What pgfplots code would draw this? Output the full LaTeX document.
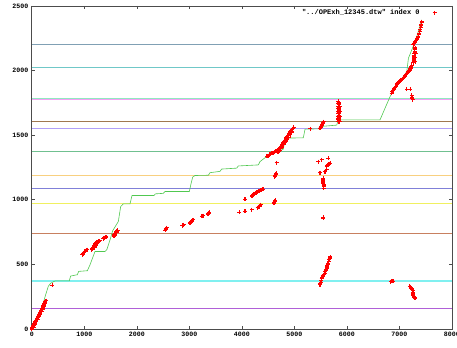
\documentclass[border=0pt]{standalone}
\usepackage{pgfplots}
\pgfplotsset{compat=1.18}
\usepackage{fontspec}
\setmonofont{Liberation Mono}
\definecolor{hA}{HTML}{B060D8}
\definecolor{hB}{HTML}{80F0F0}
\definecolor{hC}{HTML}{C88060}
\definecolor{hD}{HTML}{F0F060}
\definecolor{hE}{HTML}{8080D8}
\definecolor{hF}{HTML}{F8D080}
\definecolor{hG}{HTML}{70C090}
\definecolor{hH}{HTML}{B0A0F8}
\definecolor{hI}{HTML}{A07850}
\definecolor{hJ}{HTML}{F4A0F4}
\definecolor{hK}{HTML}{90E8C0}
\definecolor{hL}{HTML}{70C8C8}
\definecolor{hM}{HTML}{80A0B4}
\definecolor{gline}{HTML}{50C850}
\begin{document}
\begin{tikzpicture}
\begin{axis}[
  scale only axis, width=420pt, height=323pt,
  xmin=0, xmax=8000, ymin=0, ymax=2500,
  xtick={0,1000,...,8000}, ytick={0,500,...,2500},
  scaled ticks=false,
  tick align=inside, major tick length=3pt,
  axis line style={draw=black!70, line width=0.6pt},
  every tick/.style={black!70, line width=0.6pt},
  /pgf/number format/assume math mode=true,
  /pgf/number format/1000 sep={},
  ticklabel style={font=\ttfamily\bfseries\fontsize{6.6}{7}\selectfont},
  xticklabel style={yshift=0.5pt},
  legend plot pos=right,
  legend style={at={(rel axis cs:0.993,0.979)}, anchor=east, draw=none, fill=none,
    font=\ttfamily\bfseries\fontsize{7}{7}\selectfont, inner sep=0pt,
    nodes={inner sep=1pt}},
  legend image code/.code={\path[draw=none,fill=none] (0pt,-1pt) rectangle (28pt,1pt); \draw plot coordinates {(14pt,0pt)};},
  clip=true,
]
% horizontal reference lines
\addplot[hA, line width=1pt, forget plot] coordinates {(0,155) (8000,155)};
\addplot[hB, line width=1.4pt, forget plot] coordinates {(0,373) (8000,373)};
\addplot[hC, line width=1pt, forget plot] coordinates {(0,742) (8000,742)};
\addplot[hD, line width=1pt, forget plot] coordinates {(0,969) (8000,969)};
\addplot[hE, line width=1pt, forget plot] coordinates {(0,1085) (8000,1085)};
\addplot[hF, line width=1pt, forget plot] coordinates {(0,1191) (8000,1191)};
\addplot[hG, line width=1pt, forget plot] coordinates {(0,1371) (8000,1371)};
\addplot[hH, line width=1pt, forget plot] coordinates {(0,1554) (8000,1554)};
\addplot[hI, line width=1pt, forget plot] coordinates {(0,1608) (8000,1608)};
\addplot[hJ, line width=1pt, forget plot] coordinates {(0,1773) (8000,1773)};
\addplot[hK, line width=1pt, forget plot] coordinates {(0,1783) (8000,1783)};
\addplot[hL, line width=1pt, forget plot] coordinates {(0,2026) (8000,2026)};
\addplot[hM, line width=1pt, forget plot] coordinates {(0,2199) (8000,2199)};
% red points
\addplot[only marks, mark=+, mark size=2pt, red, line width=1.1pt] coordinates {
(0,0) (10,8) (20,16) (30,24) (40,32) (50,41) (60,49) (70,57) (80,65) (90,73) (100,81)
(110,89) (120,97) (130,105) (140,113) (150,122) (160,130) (170,138) (180,146) (190,154)
(200,162) (210,170) (220,178) (230,186) (240,194) (250,203) (260,211) (270,219)
(35,15) (60,35) (85,55) (110,75) (135,95) (160,115) (185,135) (210,155) (235,175) (255,195)
(390,338)
(960,575) (968,578) (975,582) (983,586) (990,590) (998,594) (1005,598) (1013,600) (1020,603) (1030,607) (1040,610) (1050,612) (1060,614)
(1140,615) (1150,620) (1160,625) (1170,632) (1180,640) (1190,648) (1200,655) (1210,660) (1220,665) (1230,669) (1240,672) (1250,675) (1260,677) (1275,680) (1290,682) (1200,630) (1230,650)
(1360,697) (1370,701) (1380,705) (1390,708) (1400,710) (1410,711) (1420,712)
(1560,718) (1568,723) (1575,728) (1583,734) (1590,740) (1598,745) (1605,750) (1613,754) (1620,758) (1630,762) (1640,765) (1585,725) (1615,745)
(2540,765) (2548,770) (2555,775) (2563,780) (2570,785)
(2870,800) (2880,804) (2890,808)
(3010,820) (3020,824) (3030,828) (3040,832) (3050,836) (3060,840) (3070,845)
(3240,872) (3255,875) (3270,878)
(3350,888) (3360,893) (3370,898) (3380,905)
(3950,902) (4060,912) (4190,923)
(4300,938) (4310,941) (4320,945) (4330,948) (4340,952) (4350,957) (4360,962)
(4060,1005)
(4190,1026) (4200,1030) (4210,1035) (4220,1040) (4230,1045) (4245,1048) (4260,1052) (4275,1056) (4290,1060) (4305,1062) (4320,1065) (4335,1068) (4350,1072) (4365,1075) (4380,1078) (4395,1080) (4410,1083)
(4610,972) (4615,977) (4620,982) (4625,986) (4630,990) (4635,994) (4640,998)
(4630,1178) (4635,1183) (4640,1188) (4645,1193) (4650,1198) (4655,1206)
(4665,1288)
(4480,1338) (4500,1342) (4520,1348) (4535,1351) (4550,1355) (4575,1360) (4600,1366)
(4620,1370) (4640,1374) (4660,1378) (4680,1384) (4700,1390) (4715,1395) (4730,1400) (4745,1410) (4760,1420) (4775,1430) (4790,1440) (4805,1450) (4820,1460) (4835,1470) (4850,1480)
(4865,1490) (4880,1500) (4895,1510) (4910,1520) (4925,1528) (4940,1535) (4955,1543) (4970,1550) (4990,1560)
(4690,1370) (4730,1385) (4770,1405) (4800,1425) (4830,1445) (4860,1465) (4890,1485) (4920,1505) (4950,1525)
(5300,1549)
(5490,1554) (5500,1560) (5510,1565) (5520,1572) (5530,1580) (5540,1588) (5550,1595) (5560,1606)
(5840,1606) (5842,1616) (5840,1625) (5842,1635) (5840,1645) (5842,1655) (5840,1665) (5842,1675) (5840,1685) (5842,1695) (5840,1705) (5842,1715) (5840,1725) (5842,1735) (5840,1745) (5842,1755) (5840,1762)
(5862,1606) (5860,1625) (5862,1645) (5860,1665) (5862,1685) (5860,1705) (5862,1725) (5860,1745)
(5458,1296) (5522,1309) (5649,1322) (5617,1258) (5630,1268) (5640,1272) (5650,1276) (5665,1280) (5681,1284)
(5490,1211) (5585,1219) (5617,1232)
(5553,1168) (5555,1160) (5553,1150) (5556,1140) (5556,1130) (5558,1120) (5560,1110) (5562,1100) (5563,1090)
(5553,858) (5555,865)
(5490,343) (5498,352) (5505,360) (5512,378) (5522,394) (5532,402) (5540,410) (5560,420) (5585,433) (5592,442) (5600,450) (5608,460) (5617,472) (5623,481) (5630,490) (5640,500) (5649,510) (5657,522) (5665,535) (5673,546) (5681,557)
(6840,365) (6850,368) (6860,370) (6870,369) (6880,368)
(7200,330) (7210,326) (7220,322) (7230,317) (7240,312) (7248,303) (7255,295) (7262,280) (7260,274) (7258,268) (7264,263) (7270,258) (7278,253) (7285,248) (7292,243) (7300,238)
(6856,1825) (6868,1835) (6880,1845) (6890,1852) (6900,1860) (6910,1866) (6920,1872) (6935,1880) (6951,1889) (6965,1897) (6980,1905) (6995,1912) (7010,1918) (7025,1924) (7040,1930) (7060,1936) (7078,1941)
(7090,1948) (7100,1955) (7115,1962) (7130,1970) (7145,1978) (7160,1985) (7170,1990) (7180,1995) (7192,2000) (7205,2005) (7212,2012) (7220,2020) (7230,2030) (7240,2040)
(7270,2060) (7272,2070) (7275,2080) (7278,2090) (7280,2100) (7282,2110) (7285,2120) (7288,2130) (7290,2140) (7292,2150) (7295,2160) (7300,2175)
(7300,2070) (7305,2100) (7310,2130)
(7268,2199) (7280,2207) (7290,2215) (7305,2225) (7320,2235) (7330,2243) (7340,2250) (7350,2256) (7363,2263) (7372,2277) (7380,2290) (7390,2305) (7400,2320) (7408,2335) (7415,2350) (7420,2360) (7424,2370) (7428,2379)
(7142,1856) (7205,1856)
(7240,1810) (7245,1795) (7250,1782) (7255,1773)
};
\addlegendentry{"../OPExh\_12345.dtw" index 0}
% green path
\addplot[gline, line width=0.6pt, forget plot] coordinates {
(0,0) (50,40) (100,85) (150,130) (219,201) (260,260) (314,330) (360,355) (423,368) (450,373)
(714,373) (740,410) (867,420) (893,446) (1058,451) (1109,497) (1204,600) (1394,600) (1430,615)
(1490,690) (1540,760) (1600,800) (1648,832) (1693,948) (1744,969) (1871,969) (1909,1033)
(2328,1033) (2353,1046) (2505,1050) (2537,1064) (3001,1064) (3030,1120) (3065,1176) (3109,1188)
(3363,1190) (3395,1210) (3585,1220) (3617,1238) (3903,1245) (3934,1262) (4315,1270) (4347,1296)
(4474,1335) (4570,1356) (4728,1381) (4791,1392) (4829,1477) (5172,1480) (5205,1547) (5458,1549)
(5490,1567) (5808,1578) (5839,1619) (6633,1619) (6824,1799) (6887,1845) (6951,1880) (7142,1992)
(7174,2096) (7238,2160) (7333,2263) (7428,2392)
};
\end{axis}
\pgfresetboundingbox
\useasboundingbox (-31.8pt,-18.7pt) rectangle (425.2pt,329pt);
\end{tikzpicture}
\end{document}
